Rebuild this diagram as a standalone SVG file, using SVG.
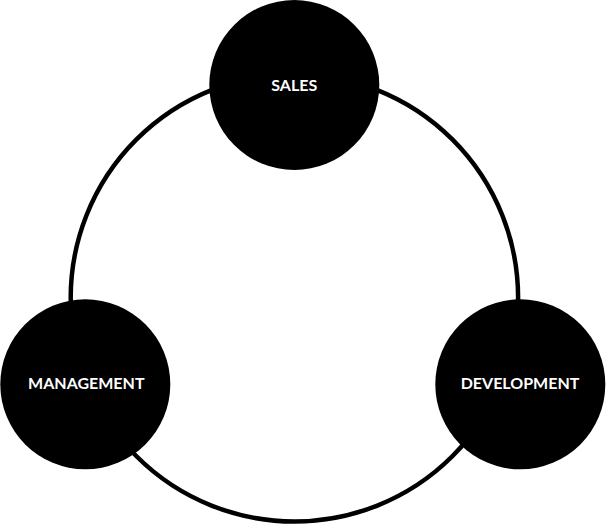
<svg xmlns="http://www.w3.org/2000/svg" width="606" height="525" viewBox="0 0 606 525">
<style>
.node{fill:#000;}
.lbl{fill:#fff;font-family:Lato,"Liberation Sans",sans-serif;font-size:16px;font-weight:bold;text-anchor:middle;}
.ring{fill:none;stroke:#000;stroke-width:4.5;}
</style>
<rect width="606" height="525" fill="#fff"/>
<g id="connectors">
<circle class="ring" cx="294.4" cy="297.8" r="223.7"/>
</g>
<g id="sales">
<circle class="node" cx="294.3" cy="85" r="85"/>
<text class="lbl" x="294.3" y="90.7">SALES</text>
</g>
<g id="management">
<circle class="node" cx="85.3" cy="384.3" r="85"/>
<text class="lbl" x="86.3" y="389.3">MANAGEMENT</text>
</g>
<g id="development">
<circle class="node" cx="520.3" cy="384.3" r="85"/>
<text class="lbl" x="520" y="389.3">DEVELOPMENT</text>
</g>
</svg>
